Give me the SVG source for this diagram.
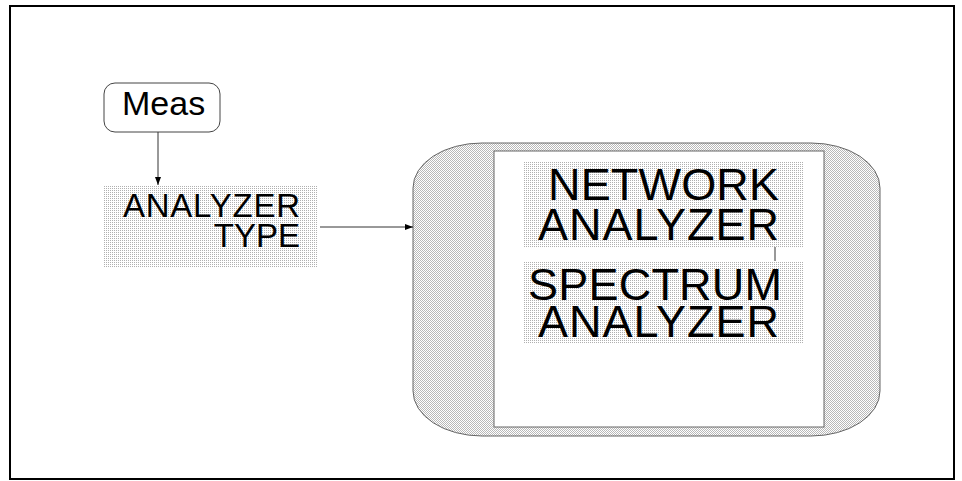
<svg xmlns="http://www.w3.org/2000/svg" width="962" height="481" viewBox="0 0 962 481">
<defs>
<pattern id="dense" width="2" height="2" patternUnits="userSpaceOnUse">
<rect width="2" height="2" fill="#ffffff"/>
<rect width="1" height="1" fill="#b8b8b8"/>
<rect x="1" y="1" width="1" height="1" fill="#b8b8b8"/>
</pattern>
<pattern id="light" width="2" height="2" patternUnits="userSpaceOnUse">
<rect width="2" height="2" fill="#ffffff"/>
<rect width="1" height="1" fill="#b0b0b0"/>
</pattern>
<marker id="arr" markerWidth="8" markerHeight="6" refX="8" refY="3" orient="auto" markerUnits="userSpaceOnUse">
<path d="M0,0 L8,3 L0,6 Z" fill="#000"/>
</marker>
</defs>
<style>
text{font-family:"Liberation Sans",Arial,sans-serif;fill:#000}
.big{font-size:45px}
.mid{font-size:33px}
.conn{stroke:#333;stroke-width:1;fill:none}
</style>
<rect x="10" y="6" width="944" height="473" fill="#fff" stroke="#000" stroke-width="2"/>
<g id="meas">
<rect x="104" y="83" width="116" height="49" rx="11" ry="11" fill="#fff" stroke="#444" stroke-width="1"/>
<text x="122" y="115" style="font-size:34px">Meas</text>
</g>
<g id="analyzer-type">
<rect x="103" y="185" width="214" height="82" fill="url(#light)"/>
<text class="mid" x="300" y="217" text-anchor="end" textLength="177">ANALYZER</text>
<text class="mid" x="300" y="247" text-anchor="end">TYPE</text>
</g>
<g id="panel">
<path d="M482,143 H811 A69,45 0 0 1 880,188 V391 A69,45 0 0 1 811,436 H482 A69,45 0 0 1 413,391 V188 A69,45 0 0 1 482,143 Z" fill="url(#dense)" stroke="#666" stroke-width="1"/>
<rect x="494" y="151" width="330" height="276" fill="#fff" stroke="#666" stroke-width="1"/>
</g>
<g id="network-analyzer">
<rect x="523" y="161" width="280" height="86" fill="url(#light)"/>
<text class="big" x="779" y="200" text-anchor="end" textLength="231">NETWORK</text>
<text class="big" x="779" y="240" text-anchor="end" textLength="241">ANALYZER</text>
</g>
<g id="spectrum-analyzer">
<rect x="523" y="261" width="280" height="83" fill="url(#light)"/>
<text class="big" x="782" y="300" text-anchor="end" textLength="254">SPECTRUM</text>
<text class="big" x="779" y="337" text-anchor="end" textLength="241">ANALYZER</text>
</g>
<g id="connectors">
<line class="conn" x1="158" y1="132" x2="158" y2="185" marker-end="url(#arr)"/>
<line class="conn" x1="320" y1="227" x2="413" y2="227" marker-end="url(#arr)"/>
<line class="conn" x1="775" y1="247" x2="775" y2="261"/>
</g>
</svg>
